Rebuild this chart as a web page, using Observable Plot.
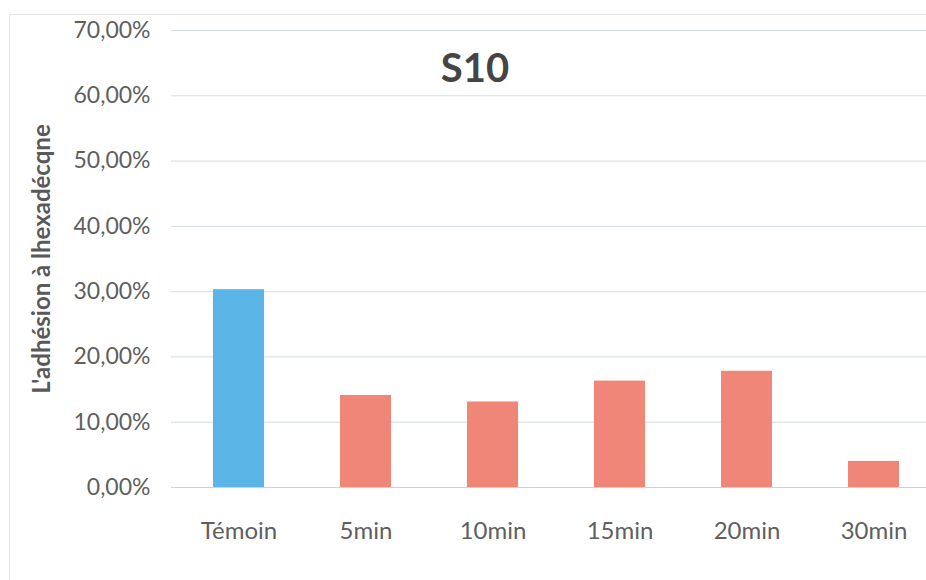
<!DOCTYPE html>
<html>
<head>
<meta charset="utf-8">
<script src="https://cdn.jsdelivr.net/npm/d3@7"></script>
<script src="https://cdn.jsdelivr.net/npm/@observablehq/plot@0.6"></script>
<style>
  html, body { margin: 0; padding: 0; background: #fff; }
  #wrap { position: relative; width: 926px; height: 580px; overflow: hidden; font-family: Lato, "Noto Sans", sans-serif; }
  #border { position: absolute; left: 9px; top: 14px; width: 940px; height: 600px; border-left: 1px solid #e4e6e8; border-top: 1px solid #e4e6e8; }
  #title { position: absolute; left: 375px; width: 200px; top: 40px; text-align: center; font-size: 40px; font-weight: bold; color: #454545; line-height: 54px; }
  #chart { position: absolute; left: 0; top: 0; }
</style>
</head>
<body>
<div id="wrap">
  <div id="border"></div>
  <div id="chart"></div>
  <div id="title">S10</div>
</div>
<script>
const title = "S10";
const yLabel = "L'adhésion à lhexadécqne";
const categories = ["Témoin", "5min", "10min", "15min", "20min", "30min"];
const values = [30.3, 14.1, 13.1, 16.3, 17.8, 4.0];
const groups = ["control", "treated", "treated", "treated", "treated", "treated"];
const yTicks = [0, 10, 20, 30, 40, 50, 60, 70];

document.getElementById("title").textContent = title;

const data = categories.map((c, i) => ({cat: c, value: values[i], group: groups[i]}));
const fmt = d => d.toFixed(2).replace(".", ",") + "%";

const chart = Plot.plot({
  width: 926,
  height: 580,
  marginTop: 30,
  marginBottom: 93,
  marginLeft: 175,
  marginRight: 0,
  style: { fontFamily: "Lato, 'Noto Sans', sans-serif", background: "transparent", overflow: "visible" },
  x: { domain: categories, range: [175, 937], paddingInner: 0.6, paddingOuter: 0.3, label: null },
  y: { domain: [0, 70], label: null },
  color: { domain: ["control", "treated"], range: ["#5ab4e5", "#ef8677"] },
  marks: [
    Plot.ruleY(yTicks, { stroke: "#d3dbe0" }),
    Plot.axisY(yTicks, { tickSize: 4, stroke: "#d6dde2", text: null, label: null }),
    Plot.axisY(yTicks, { tickSize: 0, tickPadding: 25, tickFormat: fmt, fontSize: 23, fill: "#5f5f5f", label: null }),
    Plot.barY(data, { x: "cat", y: "value", fill: "group" }),
    Plot.ruleY([0], { stroke: "#cbd3d8" }),
    Plot.axisX({ tickSize: 0, tickPadding: 34, fontSize: 24, fill: "#5f5f5f", label: null }),
    Plot.text([yLabel], { frameAnchor: "left", textAnchor: "middle", dx: -133, rotate: -90, fontSize: 24, fontWeight: "bold", fill: "#595959", text: d => d })
  ]
});
document.getElementById("chart").appendChild(chart);
</script>
</body>
</html>
